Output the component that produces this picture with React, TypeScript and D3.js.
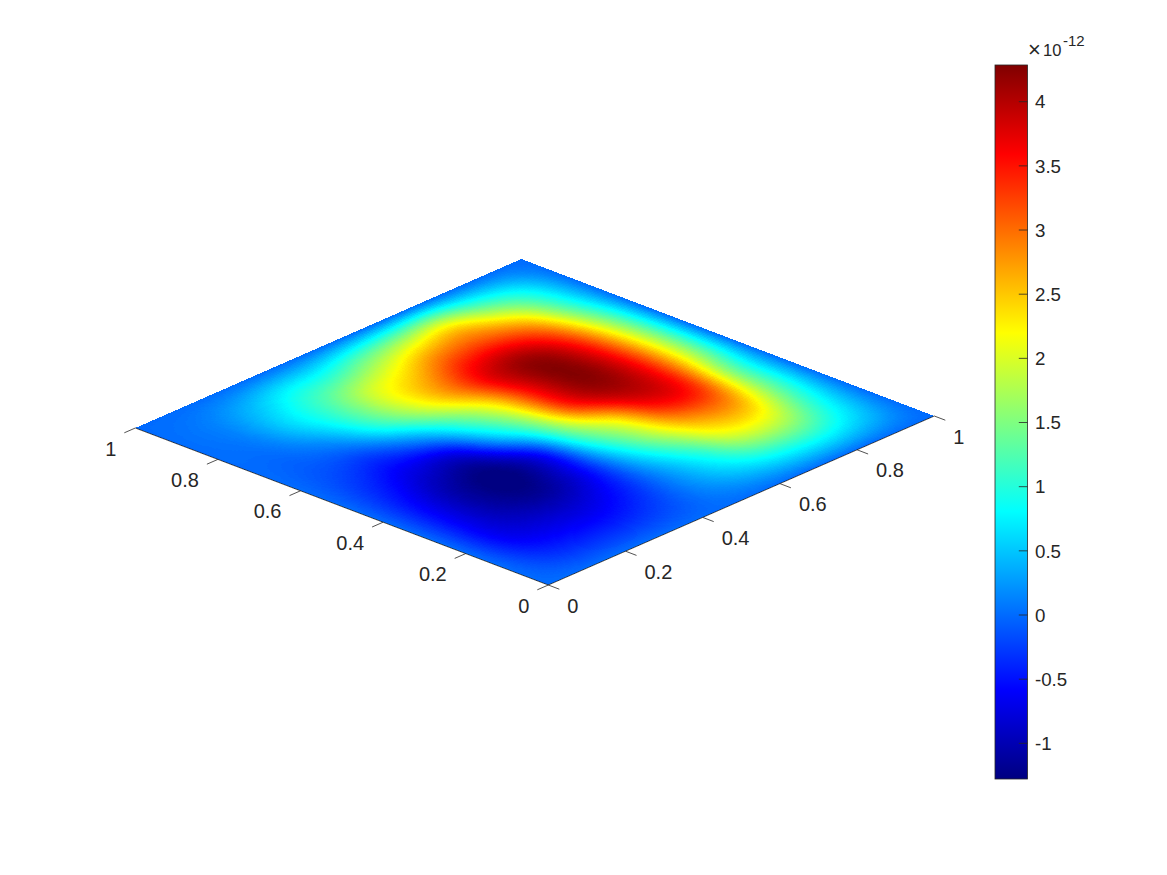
import React, { useMemo } from 'react';
import * as d3 from 'd3';

// surface values (x 1e-12), rows go along the left axis, columns along the right axis, step 0.1
const row00 = [0, 0, 0, 0, 0, 0, 0, 0, 0, 0, 0];
const row01 = [0, -0.36, -0.45, -0.42, -0.2, 0.2, 0.6, 0.95, 1.0, 0.6, 0];
const row02 = [0, -0.64, -0.82, -0.8, -0.42, 0.3, 1.05, 1.95, 1.95, 1.0, 0];
const row03 = [0, -0.68, -1.1, -1.18, -0.6, 0.6, 1.7, 2.7, 2.75, 1.35, 0];
const row04 = [0, -0.62, -1.12, -1.27, -0.55, 1.1, 2.25, 3.55, 3.4, 1.5, 0];
const row05 = [0, -0.42, -0.78, -0.78, 0.4, 1.65, 3.4, 4.1, 3.6, 1.85, 0];
const row06 = [0, -0.2, -0.3, 0.2, 1.15, 2.2, 3.65, 4.27, 3.6, 1.9, 0];
const row07 = [0, -0.03, 0.25, 1.05, 1.95, 2.85, 3.8, 4.1, 3.35, 1.7, 0];
const row08 = [0, 0.1, 0.6, 1.2, 1.95, 2.45, 3.1, 3.2, 2.65, 1.25, 0];
const row09 = [0, 0.12, 0.45, 0.85, 1.05, 1.5, 1.9, 2.15, 1.45, 0.8, 0];
const row10 = [0, 0, 0, 0, 0, 0, 0, 0, 0, 0, 0];
const surfaceRows = [row00, row01, row02, row03, row04, row05, row06, row07, row08, row09, row10];

const axisTicks = [0, 0.2, 0.4, 0.6, 0.8, 1];
const colorbarTicks = [-1, -0.5, 0, 0.5, 1, 1.5, 2, 2.5, 3, 3.5, 4];
const colorMin = -1.278;
const colorMax = 4.286;

const jetPositions = [0, 0.125, 0.375, 0.625, 0.875, 1];
const jetColors = ['#000080', '#0000ff', '#00ffff', '#ffff00', '#ff0000', '#800000'];

const levels = 256;
const subdivisions = 20;
const textColor = '#262626';
const font = 'Helvetica, "Liberation Sans", Arial, sans-serif';

const width = 1167;
const height = 875;

// floor of the box on screen
const origin = { x: 548.3, y: 585 };
const rightAxis = { dx: 386, dy: -169 };
const leftAxis = { dx: -413, dy: -157 };

const rightX = d3.scaleLinear().domain([0, 1]).range([0, rightAxis.dx]);
const rightY = d3.scaleLinear().domain([0, 1]).range([0, rightAxis.dy]);
const leftX = d3.scaleLinear().domain([0, 1]).range([0, leftAxis.dx]);
const leftY = d3.scaleLinear().domain([0, 1]).range([0, leftAxis.dy]);

const px = (a: number, b: number) => origin.x + rightX(a) + leftX(b);
const py = (a: number, b: number) => origin.y + rightY(a) + leftY(b);

const jetT = d3.scaleLinear().domain(jetPositions).range(jetColors as any).interpolate(d3.interpolateRgb as any);
const jet = (t: number) => jetT(t) as unknown as string;
const valueToLevel = d3
  .scaleQuantize()
  .domain([colorMin, colorMax])
  .range(d3.range(levels));

const barTop = 65;
const barBottom = 779;
const barLeft = 995;
const barRight = 1027.5;
const barY = d3.scaleLinear().domain([colorMin, colorMax]).range([barBottom, barTop]);

const gridAt = (i: number, j: number): number => {
  const n = surfaceRows.length;
  if (j < 0) return 2 * gridAt(i, 0) - gridAt(i, 1);
  if (j >= n) return 2 * gridAt(i, n - 1) - gridAt(i, n - 2);
  if (i < 0) return 2 * gridAt(0, j) - gridAt(1, j);
  if (i >= n) return 2 * gridAt(n - 1, j) - gridAt(n - 2, j);
  return surfaceRows[j][i];
};

const cubic = (p0: number, p1: number, p2: number, p3: number, t: number) =>
  p1 + 0.5 * t * (p2 - p0 + t * (2 * p0 - 5 * p1 + 4 * p2 - p3 + t * (3 * (p1 - p2) + p3 - p0)));

// smooth shading between the grid values, like shading interp
const shade = (a: number, b: number) => {
  const n = surfaceRows.length - 1;
  const u = a * n;
  const v = b * n;
  const i = Math.min(Math.floor(u), n - 1);
  const j = Math.min(Math.floor(v), n - 1);
  const along = (r: number) =>
    cubic(gridAt(i - 1, r), gridAt(i, r), gridAt(i + 1, r), gridAt(i + 2, r), u - i);
  return cubic(along(j - 1), along(j), along(j + 1), along(j + 2), v - j);
};

function buildSurface() {
  const n = (surfaceRows.length - 1) * subdivisions;
  const paths: any[] = d3.range(levels).map(() => d3.path());
  for (let j = 0; j < n; j++) {
    for (let i = 0; i < n; i++) {
      const a0 = i / n;
      const a1 = (i + 1) / n;
      const b0 = j / n;
      const b1 = (j + 1) / n;
      const level = valueToLevel(shade((a0 + a1) / 2, (b0 + b1) / 2)) as number;
      const p = paths[level];
      p.moveTo(px(a0, b0), py(a0, b0));
      p.lineTo(px(a1, b0), py(a1, b0));
      p.lineTo(px(a1, b1), py(a1, b1));
      p.lineTo(px(a0, b1), py(a0, b1));
      p.closePath();
    }
  }
  return paths.map((p, level) => ({ d: p.toString(), color: jet((level + 0.5) / levels) }));
}

export default function App() {
  const surface = useMemo(buildSurface, []);

  return (
    <svg
      width={width}
      height={height}
      style={{ position: 'absolute', left: 0, top: 0, display: 'block', background: '#fff' }}
      fontFamily={font}
    >
      <defs>
        <linearGradient id="jetbar" x1="0" y1="1" x2="0" y2="0">
          {jetPositions.map((p, i) => (
            <stop key={p} offset={p} stopColor={jetColors[i]} />
          ))}
        </linearGradient>
      </defs>

      <g shapeRendering="crispEdges">
        {surface.map((s) => (s.d ? <path key={s.color} d={s.d} fill={s.color} /> : null))}
      </g>

      {/* left axis, 0 at the bottom corner */}
      <line x1={px(0, 0)} y1={py(0, 0)} x2={px(0, 1)} y2={py(0, 1)} stroke={textColor} strokeWidth={0.8} />
      {axisTicks.map((t) => (
        <g key={'l' + t}>
          <line
            x1={px(0, t)}
            y1={py(0, t)}
            x2={px(0, t) - 11}
            y2={py(0, t) + 4.8}
            stroke={textColor}
            strokeWidth={0.8}
          />
          <text x={px(0, t) - 19} y={py(0, t) + 27.5} textAnchor="end" fontSize={20} fill={textColor}>
            {t}
          </text>
        </g>
      ))}

      {/* right axis */}
      <line x1={px(0, 0)} y1={py(0, 0)} x2={px(1, 0)} y2={py(1, 0)} stroke={textColor} strokeWidth={0.8} />
      {axisTicks.map((t) => (
        <g key={'r' + t}>
          <line
            x1={px(t, 0)}
            y1={py(t, 0)}
            x2={px(t, 0) + 11}
            y2={py(t, 0) + 4.2}
            stroke={textColor}
            strokeWidth={0.8}
          />
          <text x={px(t, 0) + 19} y={py(t, 0) + 27.5} textAnchor="start" fontSize={20} fill={textColor}>
            {t}
          </text>
        </g>
      ))}

      {/* colorbar */}
      <rect
        x={barLeft}
        y={barTop}
        width={barRight - barLeft}
        height={barBottom - barTop}
        fill="url(#jetbar)"
        stroke={textColor}
        strokeWidth={0.8}
      />
      {colorbarTicks.map((t) => (
        <g key={'c' + t}>
          <line
            x1={barRight - 8.7}
            y1={barY(t)}
            x2={barRight}
            y2={barY(t)}
            stroke={textColor}
            strokeWidth={0.8}
          />
          <text x={1035} y={barY(t) + 6.7} fontSize={18.7} fill={textColor}>
            {t}
          </text>
        </g>
      ))}
      <text x={1028} y={57} fontSize={22} fill={textColor} fontWeight={300}>
        ×
      </text>
      <text x={1043} y={56} fontSize={16.5} fill={textColor}>
        10
      </text>
      <text x={1063} y={46} fontSize={15} fill={textColor}>
        -12
      </text>
    </svg>
  );
}
